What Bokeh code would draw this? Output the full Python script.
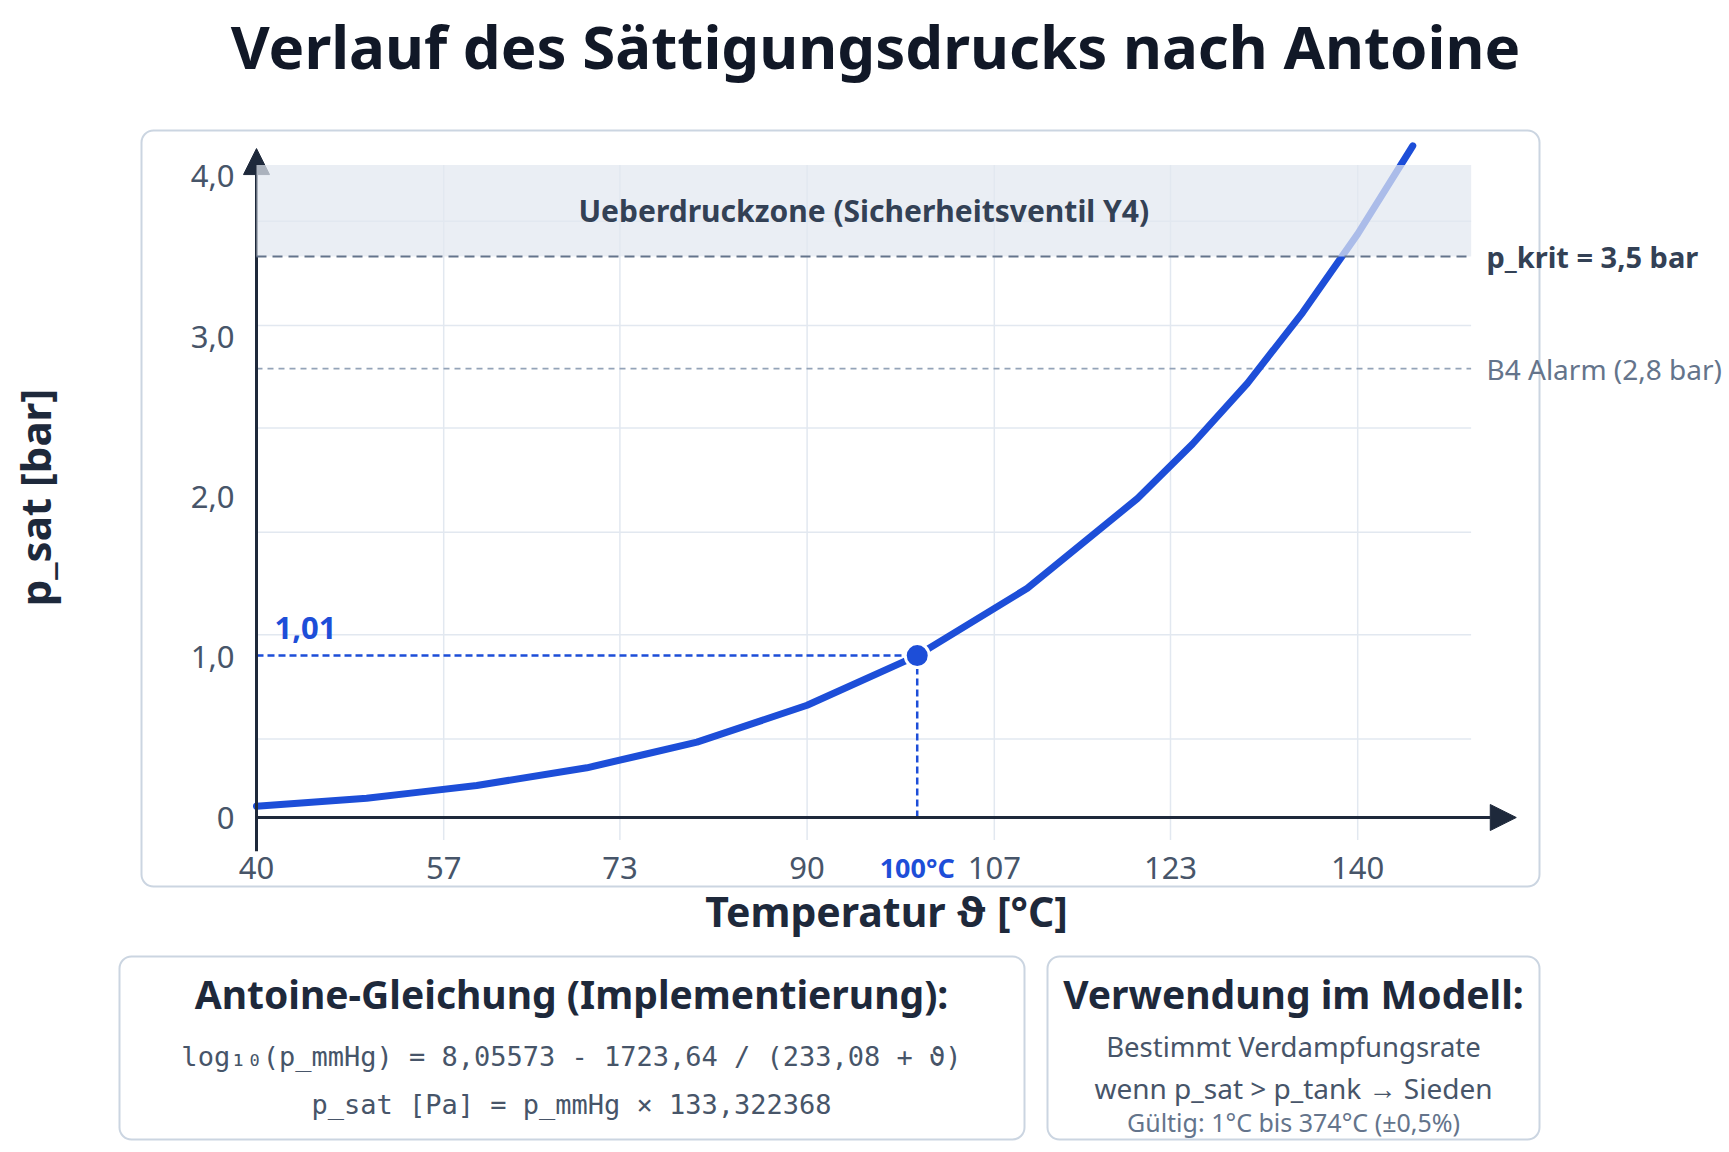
import math
from bokeh.plotting import figure
from bokeh.models import Range1d, Label, BoxAnnotation, Arrow, NormalHead
from bokeh.core.properties import value
from bokeh.embed import file_html
from bokeh.resources import INLINE

# Saettigungsdruck
temps = [40, 50, 55, 60, 70, 75, 80, 90, 100, 110, 120, 125, 130, 135, 140, 145]
p_sat = [0.07, 0.12, 0.16, 0.20, 0.31, 0.39, 0.47, 0.70, 1.01, 1.43, 1.99, 2.33, 2.71, 3.15, 3.64, 4.19]

x_ticks = [40, 57, 73, 90, 107, 123, 140]
x_tick_labels = ["40", "57", "73", "90", "107", "123", "140"]
y_ticks = [0, 1, 2, 3, 4]
y_tick_labels = ["0", "1,0", "2,0", "3,0", "4,0"]
y_grid = [0.49, 1.14, 1.78, 2.43, 3.07, 3.72]

p_krit = 3.5
p_alarm = 2.8
zone_top = 4.07
boil_t = 100
boil_p = 1.01
x_lo, x_hi = 40, 150.3
y_lo = -0.14

FONT = "Noto Sans"
MONO = "DejaVu Sans Mono"
BLUE = "#1d4ed8"

W, H = 1729, 1152
PXC, PXB = 11.012, 160.3          # pixel per degC / per bar
OX, OY = 256, 817                  # canvas position of (40, 0)


def dx(px):
    return 40 + (px - OX) / PXC


def dy(py):
    return (OY - py) / PXB


def sy(py):
    return H - py


p = figure(width=W, height=H, title=None,
           x_range=Range1d(40 - OX / PXC, 40 + (W - OX) / PXC),
           y_range=Range1d(-(H - OY) / PXB, OY / PXB),
           x_axis_location=None, y_axis_location=None,
           output_backend="svg", toolbar_location=None, tools="",
           min_border=0, outline_line_color=None,
           background_fill_color="white", border_fill_color="white")
p.grid.visible = False

# cards
for l, t, r, b in [(141, 130, 1539, 886), (119, 956, 1024, 1139), (1047, 956, 1539, 1139)]:
    p.add_layout(BoxAnnotation(left=l, right=r, top=sy(t), bottom=sy(b),
                               left_units="screen", right_units="screen",
                               top_units="screen", bottom_units="screen",
                               fill_color="white", fill_alpha=1,
                               line_color="#cbd5e1", line_alpha=1, line_width=2,
                               border_radius=12, level="underlay"))

# grid
p.segment(x0=x_ticks[1:], y0=y_lo, x1=x_ticks[1:], y1=zone_top,
          line_color="#e2e8f0", line_width=1.5)
p.segment(x0=x_lo, y0=y_grid, x1=x_hi, y1=y_grid,
          line_color="#e2e8f0", line_width=1.5)

# alarm line
p.line([x_lo, x_hi], [p_alarm, p_alarm], line_color="#94a3b8", line_width=1.6, line_dash="6 5")

# guides to 100 degC
p.line([x_lo, boil_t], [boil_p, boil_p], line_color=BLUE, line_width=2.5, line_dash="7 4")
p.line([boil_t, boil_t], [0, boil_p], line_color=BLUE, line_width=2.5, line_dash="7 4")

p.line(temps, p_sat, line_color=BLUE, line_width=7, line_cap="round", line_join="round")
p.scatter([boil_t], [boil_p], size=24, fill_color=BLUE, line_color="white", line_width=3)

# axes with arrows
axis_col = "#1e293b"
p.add_layout(Arrow(end=NormalHead(size=26, fill_color=axis_col, line_color=axis_col),
                   x_start=40, y_start=-0.21, x_end=40, y_end=4.173,
                   line_color=axis_col, line_width=3))
p.add_layout(Arrow(end=NormalHead(size=26, fill_color=axis_col, line_color=axis_col),
                   x_start=40, y_start=0, x_end=154.4, y_end=0,
                   line_color=axis_col, line_width=3))

# overpressure zone
p.add_layout(BoxAnnotation(left=x_lo, right=x_hi, bottom=p_krit, top=zone_top,
                           fill_color="#e2e8f0", fill_alpha=0.72, line_alpha=0))
p.add_layout(Arrow(end=None, x_start=x_lo, y_start=p_krit, x_end=x_hi, y_end=p_krit,
                   line_color="#64748b", line_width=2, line_dash="10 6"))

# tick labels
p.text(x=x_ticks, y=dy(867), text=x_tick_labels, text_align="center", text_baseline="middle",
       text_font=value(FONT), text_font_size="31px", text_color="#475569")
p.text(x=dx(234), y=y_ticks, text=y_tick_labels, text_align="right", text_baseline="middle",
       text_font=value(FONT), text_font_size="31px", text_color="#475569")


def lab(text, x, y, size, color, bold=False, align="left", baseline="middle",
        units="data", font=FONT, angle=0):
    p.add_layout(Label(x=x, y=y, x_units=units, y_units=units, text=text,
                       text_font=font, text_font_size=size,
                       text_font_style="bold" if bold else "normal",
                       text_color=color, text_align=align, text_baseline=baseline,
                       angle=angle))


lab("Ueberdruckzone (Sicherheitsventil Y4)", (x_lo + x_hi) / 2, (p_krit + zone_top) / 2,
    "30px", "#334155", bold=True, align="center")
lab("p_krit = 3,5 bar", dx(1486), p_krit, "29px", "#334155", bold=True)
lab("B4 Alarm (2,8 bar)", dx(1486), p_alarm, "28px", "#64748b")
lab("1,01", dx(274), dy(627), "31px", BLUE, bold=True, baseline="alphabetic")
lab("100°C", boil_t, dy(867), "27px", BLUE, bold=True, align="center")

# titles
lab("Verlauf des Sättigungsdrucks nach Antoine", 875, sy(45), "60px", "#111827",
    bold=True, align="center", units="screen")
lab("Temperatur ϑ [°C]", 886, sy(910), "41px", "#1e293b",
    bold=True, align="center", baseline="alphabetic", units="screen")
lab("p_sat [bar]", 34, sy(497), "42px", "#1e293b",
    bold=True, align="center", units="screen", angle=math.pi / 2)

# info boxes
lab("Antoine-Gleichung (Implementierung):", 571, sy(993), "39px", "#1e293b",
    bold=True, align="center", baseline="alphabetic", units="screen")
lab("log₁₀(p_mmHg) = 8,05573 - 1723,64 / (233,08 + ϑ)", 571, sy(1056), "27px", "#475569",
    align="center", baseline="alphabetic", units="screen", font=MONO)
lab("p_sat [Pa] = p_mmHg × 133,322368", 571, sy(1104), "27px", "#475569",
    align="center", baseline="alphabetic", units="screen", font=MONO)

lab("Verwendung im Modell:", 1293, sy(993), "39px", "#1e293b",
    bold=True, align="center", baseline="alphabetic", units="screen")
lab("Bestimmt Verdampfungsrate", 1293, sy(1046), "27.5px", "#475569",
    align="center", baseline="alphabetic", units="screen")
lab("wenn p_sat > p_tank → Sieden", 1293, sy(1087), "28px", "#475569",
    align="center", baseline="alphabetic", units="screen")
lab("Gültig: 1°C bis 374°C (±0,5%)", 1293, sy(1121), "25px", "#64748b",
    align="center", baseline="alphabetic", units="screen")

open("out.html", "w").write(file_html(p, INLINE))
